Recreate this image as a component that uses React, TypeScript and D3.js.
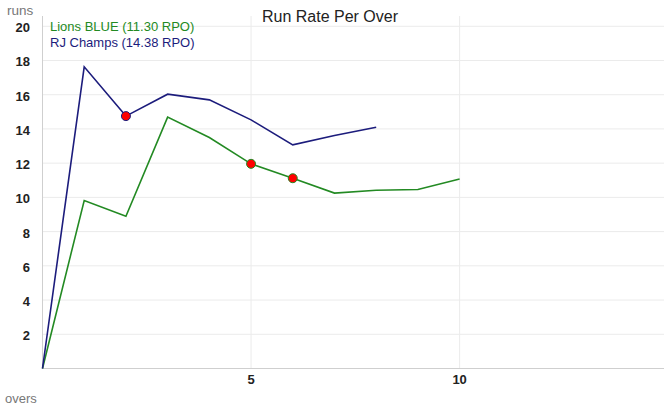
import React from "react";
import * as d3 from "d3";

const overs = [0, 1, 2, 3, 4, 5, 6, 7, 8, 9, 10];
const lionsBlue = [0, 9.82, 8.9, 14.69, 13.5, 11.96, 11.12, 10.25, 10.42, 10.46, 11.08];
const rjChamps = [0, 17.63, 14.75, 16.03, 15.7, 14.53, 13.07, 13.62, 14.1];
const lionsWickets = [5, 6];
const rjWickets = [2];
const yTicks = [2, 4, 6, 8, 10, 12, 14, 16, 18, 20];
const xTicks = [5, 10];
const seriesNames = ["Lions BLUE (11.30 RPO)", "RJ Champs (14.38 RPO)"];

const W = 664;
const H = 409;
const GREEN = "#238a23";
const BLUE = "#1c1c7c";

export default function App() {
  const x = d3.scaleLinear().domain([0, 14.9]).range([42.5, 664]);
  const y = d3.scaleLinear().domain([0, 20.6]).range([368.5, 16]);
  const line = d3
    .line<number>()
    .x((_, i) => x(overs[i]))
    .y((d) => y(d));
  const font = "Helvetica, Arial, 'Liberation Sans', sans-serif";
  return (
    <svg
      width={W}
      height={H}
      style={{ position: "absolute", left: 0, top: 0, fontFamily: font }}
    >
      <rect width={W} height={H} fill="#fff" />
      {yTicks.map((t) => (
        <line key={"gy" + t} x1={x(0)} x2={W} y1={y(t)} y2={y(t)} stroke="#ebebeb" strokeWidth={1} />
      ))}
      {xTicks.map((t) => (
        <line key={"gx" + t} x1={x(t)} x2={x(t)} y1={16} y2={y(0)} stroke="#ebebeb" strokeWidth={1} />
      ))}
      <line x1={x(0)} x2={x(0)} y1={16} y2={y(0)} stroke="#cfcfcf" strokeWidth={1} />
      <line x1={x(0)} x2={W} y1={y(0)} y2={y(0)} stroke="#cfcfcf" strokeWidth={1} />
      {yTicks.map((t) => (
        <text key={"ty" + t} x={30} y={y(t) + 6} textAnchor="end" fontSize={13} fontWeight="bold" fill="#222">
          {t}
        </text>
      ))}
      {xTicks.map((t) => (
        <text key={"tx" + t} x={x(t)} y={384} textAnchor="middle" fontSize={13} fontWeight="bold" fill="#222">
          {t}
        </text>
      ))}
      <text x={7} y={15} fontSize={13.5} fill="#777">runs</text>
      <text x={5} y={403} fontSize={13} fill="#777">overs</text>
      <text x={330} y={22} textAnchor="middle" fontSize={16} fill="#222">Run Rate Per Over</text>

      <path d={line(lionsBlue) || ""} fill="none" stroke={GREEN} strokeWidth={1.6} />
      <path d={line(rjChamps) || ""} fill="none" stroke={BLUE} strokeWidth={1.6} />
      {lionsWickets.map((i) => (
        <circle key={"lw" + i} cx={x(overs[i])} cy={y(lionsBlue[i])} r={4.5} fill="#f00" stroke={GREEN} strokeWidth={1} />
      ))}
      {rjWickets.map((i) => (
        <circle key={"rw" + i} cx={x(overs[i])} cy={y(rjChamps[i])} r={4.5} fill="#f00" stroke={BLUE} strokeWidth={1} />
      ))}
      <text x={50} y={31} fontSize={13} fill={GREEN}>{seriesNames[0]}</text>
      <text x={50} y={47} fontSize={13} fill={BLUE}>{seriesNames[1]}</text>
    </svg>
  );
}
